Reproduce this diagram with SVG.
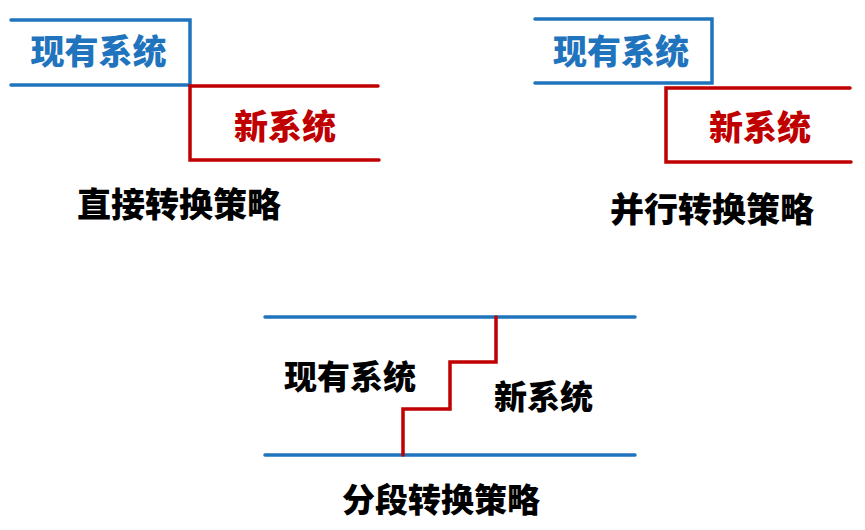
<svg xmlns="http://www.w3.org/2000/svg" width="865" height="530" viewBox="0 0 865 530">
<style>
.t{font-family:"Noto Sans CJK SC","Noto Sans",sans-serif;font-weight:900;text-anchor:middle}
.b{fill:none;stroke:#1f74bd;stroke-width:3.5;stroke-linecap:round;stroke-linejoin:miter}
.r{fill:none;stroke:#c00000;stroke-width:3.5;stroke-linecap:round;stroke-linejoin:miter}
.lb{fill:#1f74bd;font-size:34px}
.lr{fill:#c00000;font-size:34px}
.k{fill:#000;font-size:34px}
.s{fill:#000;font-size:33px}
</style>
<rect width="865" height="530" fill="#fff"/>
<g id="connectors">
<path class="b" d="M11 20 H190 V85 H11"/>
<path class="r" d="M378 86 H190 V160 H379"/>
<path class="b" d="M535 19 H712 V83 H535"/>
<path class="r" d="M850 88 H666 V162 H851"/>
<path class="b" d="M265 317 H635"/>
<path class="b" d="M265 455 H635"/>
<path class="r" d="M496 317 V362 H450 V409 H403 V455"/>
</g>
<g id="direct">
<text class="t lb" x="98.5" y="64">现有系统</text>
<text class="t lr" x="285" y="139">新系统</text>
<text class="t k" x="179" y="217">直接转换策略</text>
</g>
<g id="parallel">
<text class="t lb" x="621" y="64">现有系统</text>
<text class="t lr" x="760" y="140">新系统</text>
<text class="t k" x="712" y="222">并行转换策略</text>
</g>
<g id="phased">
<text class="t s" x="350" y="389">现有系统</text>
<text class="t s" x="543.5" y="409">新系统</text>
<text class="t s" x="441" y="512">分段转换策略</text>
</g>
</svg>
